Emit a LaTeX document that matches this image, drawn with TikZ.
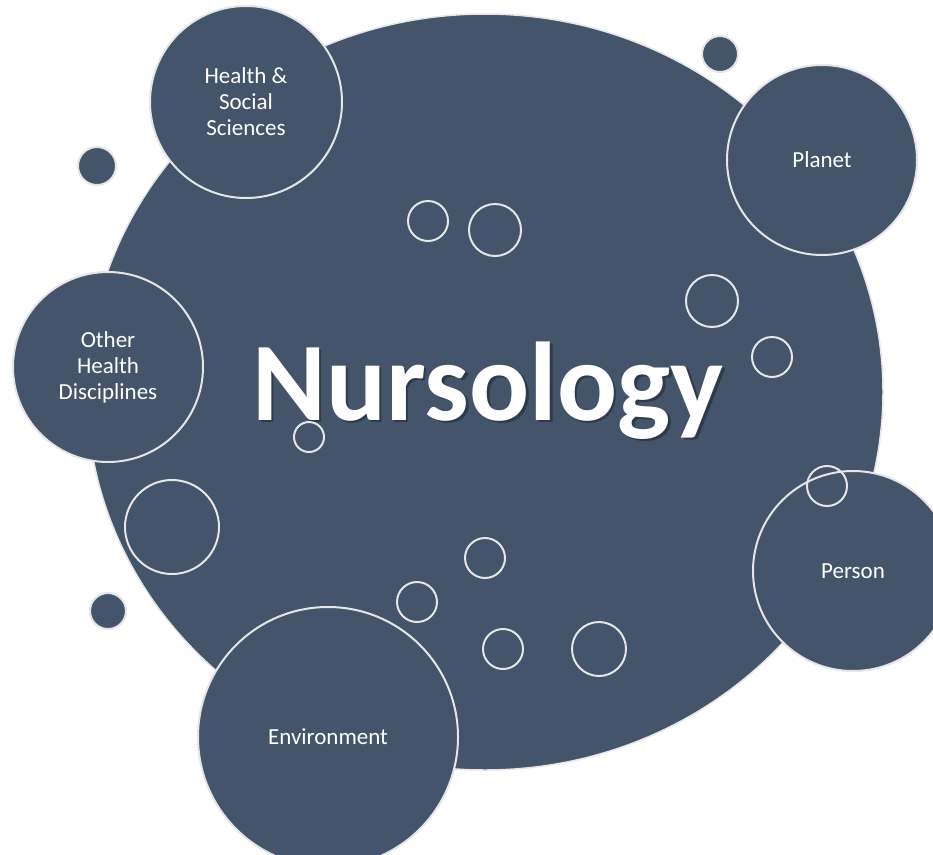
\documentclass[tikz,border=0pt]{standalone}
\usepackage{fontspec}
\setmainfont{Carlito}
\usetikzlibrary{shapes,positioning}
\definecolor{slate}{RGB}{68, 84, 106}
\definecolor{rim}{RGB}{230, 230, 230}
\tikzstyle{bubble} = [circle, draw=rim, line width=2pt, fill=slate, text=white, align=center, inner sep=0pt, font=\fontsize{23}{26}\selectfont]
\tikzstyle{ring} = [circle, draw=rim, line width=2pt, fill=none, inner sep=0pt]
\tikzstyle{dot} = [circle, draw=rim, line width=2pt, fill=slate, inner sep=0pt]
\tikzstyle{title} = [inner sep=0pt, anchor=base, font=\fontsize{112}{120}\selectfont\bfseries]

\begin{document}
\begin{tikzpicture}[x=1pt, y=-1pt]
\clip (0,0) rectangle (933,854);
\fill[white] (0,0) rectangle (933,854);

% main body =============================
\node[ellipse, draw=rim, line width=1.5pt, fill=slate, inner sep=0pt, minimum width=796pt, minimum height=756pt] (body) at (485,392) {};

% rings inside
\node[ring, minimum size=40pt] (r1) at (428,221) {};
\node[ring, minimum size=52pt] (r2) at (495,230) {};
\node[ring, minimum size=52pt] (r3) at (712,301) {};
\node[ring, minimum size=40pt] (r4) at (772,357) {};
\node[ring, minimum size=94pt] (r5) at (172,527) {};
\node[ring, minimum size=40pt] (r6) at (485,558) {};
\node[ring, minimum size=40pt] (r7) at (417,602) {};
\node[ring, minimum size=40pt] (r8) at (503,649) {};
\node[ring, minimum size=54pt] (r9) at (599,649) {};

% title
\node[title, text=black, opacity=0.3] (shadow) at (490.5,422.5) {Nursology};
\node[title, text=white] (nursology) at (488,420) {Nursology};
\node[ring, minimum size=30pt] (r10) at (309,437) {};

% satellites
\node[bubble, minimum size=192pt] (health) at (246,102) {Health \&\\Social\\Sciences};
\node[bubble, minimum size=190pt] (planet) at (822,160) {Planet};
\node[bubble, minimum size=190pt] (other) at (108,367) {Other\\Health\\Disciplines};
\node[bubble, minimum size=200pt] (person) at (853,571) {Person};
\node[bubble, minimum size=260pt] (env) at (328,737) {Environment};
\node[ring, minimum size=40pt] (r11) at (827,486) {};

% small dots
\node[dot, minimum size=36pt] (d1) at (720,54) {};
\node[dot, minimum size=38pt] (d2) at (97,166) {};
\node[dot, minimum size=36pt] (d3) at (108,611) {};

\end{tikzpicture}
\end{document}
